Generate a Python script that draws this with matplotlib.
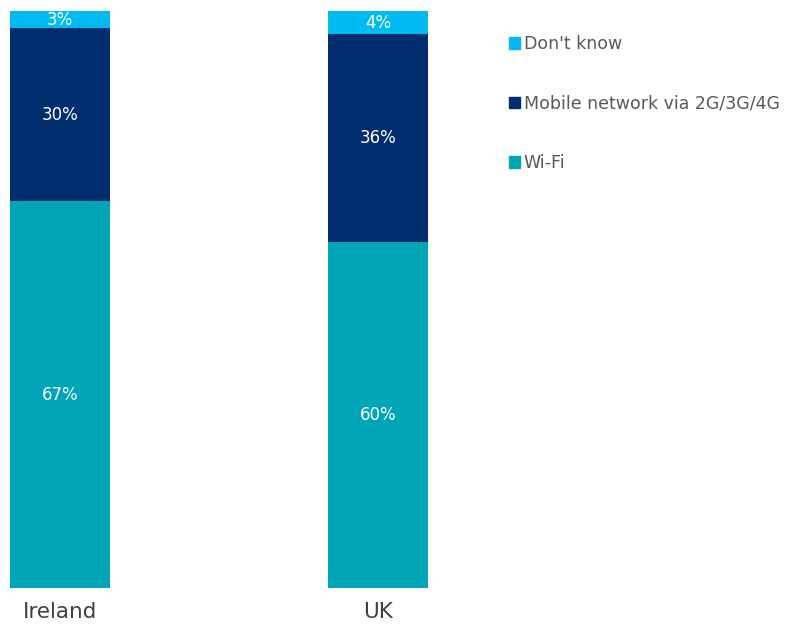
import matplotlib.pyplot as plt
from matplotlib.patches import Patch

# data
countries = ["Ireland", "UK"]
wifi = [67, 60]
mobile = [30, 36]
dont_know = [3, 4]

series = [
    ("Wi-Fi", wifi, "#00A6B8"),
    ("Mobile network via 2G/3G/4G", mobile, "#002D6E"),
    ("Don't know", dont_know, "#00BAF1"),
]

W, H = 785, 624
fig = plt.figure(figsize=(W / 100, H / 100), dpi=100)
ax = fig.add_axes([0, (H - 588) / H, 480 / W, 577 / H])

x = [0, 1]
bottom = [0, 0]
for name, vals, color in series:
    bars = ax.bar(x, vals, width=100 / 318.5, bottom=bottom, color=color, label=name)
    ax.bar_label(bars, labels=[f"{v}%" for v in vals], label_type="center",
                 color="white", fontsize=12)
    bottom = [b + v for b, v in zip(bottom, vals)]

ax.set_xlim(-60 / 318.5, 420 / 318.5)
ax.set_ylim(0, 100)
ax.set_xticks(x)
ax.set_xticklabels(countries, fontsize=15.5, color="#404040")
ax.tick_params(axis="x", length=0, pad=10)
ax.set_yticks([])
for s in ax.spines.values():
    s.set_visible(False)

handles = [Patch(color=c, label=n) for n, _, c in reversed(series)]
fig.legend(handles=handles, loc="upper left", bbox_to_anchor=(502 / W, 1 - 28 / H),
           frameon=False, fontsize=12.5, labelcolor="#595959",
           handlelength=0.65, handleheight=0.65, handletextpad=0.2,
           labelspacing=2.4, borderaxespad=0)

fig.savefig("out.png", dpi=100)
